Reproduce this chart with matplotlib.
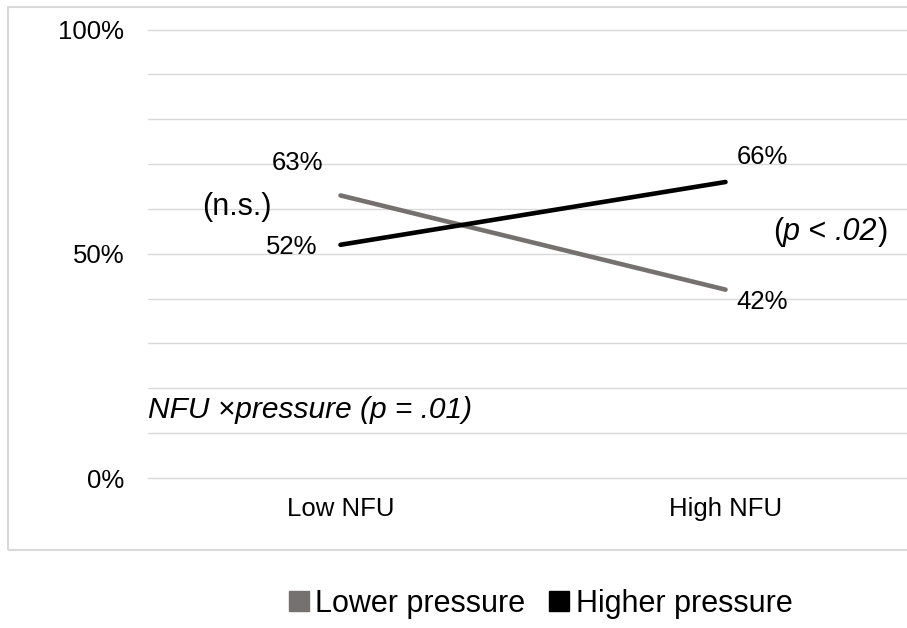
import matplotlib
matplotlib.use('Agg')
import matplotlib.pyplot as plt
from matplotlib.lines import Line2D
from matplotlib.patches import Rectangle

plt.rcParams['font.family'] = ['Liberation Sans', 'DejaVu Sans']

categories = ['Low NFU', 'High NFU']
series_names = ['Lower pressure', 'Higher pressure']
lower_pressure = [0.63, 0.42]
higher_pressure = [0.52, 0.66]
y_labels = ['0%', '50%', '100%']

gray = '#767171'
grid_col = '#d9d9d9'

fig = plt.figure(figsize=(9.07, 6.28), dpi=100)
ax = fig.add_axes([148 / 907, 150 / 628, 770 / 907, 448.5 / 628])

# outer chart border (right side runs off the picture)
fig.patches.append(Rectangle((8 / 907, 78 / 628), 1.2, 543 / 628, transform=fig.transFigure,
                             fill=False, edgecolor=grid_col, lw=1.5))

x = list(range(len(categories)))
ax.plot(x, lower_pressure, color=gray, lw=3.3, solid_capstyle='round', zorder=3)
ax.plot(x, higher_pressure, color='black', lw=3.3, solid_capstyle='round', zorder=3)

ax.set_xlim(-0.5, 1.5)
ax.set_ylim(0, 1)
ax.set_yticks([0, 0.5, 1.0])
ax.set_yticklabels(y_labels, fontsize=18.5)
ax.set_yticks([i / 10 for i in range(11)], minor=True)
ax.set_xticks(x)
ax.set_xticklabels(categories, fontsize=18.5)
ax.tick_params(axis='y', which='both', length=0, pad=17)
ax.tick_params(axis='x', length=0, pad=14)
ax.grid(axis='y', which='both', color=grid_col, lw=1.0, zorder=0)
for gl in ax.yaxis.get_gridlines() + ax.yaxis.get_minorticklines():
    gl.set_clip_on(False)
for gl in ax.get_ygridlines():
    gl.set_clip_on(False)
ax.set_axisbelow(True)
for s in ax.spines.values():
    s.set_visible(False)

# data labels
offs_low = [(-43, 32), (37, -12)]
offs_high = [(-49, -2), (37, 25)]
for i in x:
    ax.annotate(f'{lower_pressure[i] * 100:.0f}%', (i, lower_pressure[i]), xytext=offs_low[i],
                textcoords='offset pixels', ha='center', va='center', fontsize=18.5)
    ax.annotate(f'{higher_pressure[i] * 100:.0f}%', (i, higher_pressure[i]), xytext=offs_high[i],
                textcoords='offset pixels', ha='center', va='center', fontsize=18.5)

ax.text(-0.269, 0.604, '(n.s.)', ha='center', va='center', fontsize=22)

# (p < .02) with mixed upright / italic pieces
pieces = [('(', 'normal'), ('p', 'italic'), (' < ', 'normal'), ('.02', 'italic'), (')', 'normal')]
prev = ax.text(1.123, 0.549, pieces[0][0], ha='left', va='center', fontsize=22)
for txt, st in pieces[1:]:
    prev = ax.annotate(txt, xy=(1, 0), xycoords=prev, ha='left', va='bottom',
                       fontsize=22, style=st)

ax.text(-0.5, 0.152, 'NFU \u00d7pressure (p = .01)', ha='left', va='center',
        fontsize=21.5, style='italic')

handles = [Line2D([], [], marker='s', ls='none', color=gray, markersize=14.5),
           Line2D([], [], marker='s', ls='none', color='black', markersize=14.5)]
fig.legend(handles, series_names, loc='center', bbox_to_anchor=(541 / 907, 24 / 628),
           ncol=2, frameon=False, fontsize=22, handlelength=0.6, handletextpad=0.25,
           columnspacing=0.8)

fig.savefig('out.png', dpi=100)
